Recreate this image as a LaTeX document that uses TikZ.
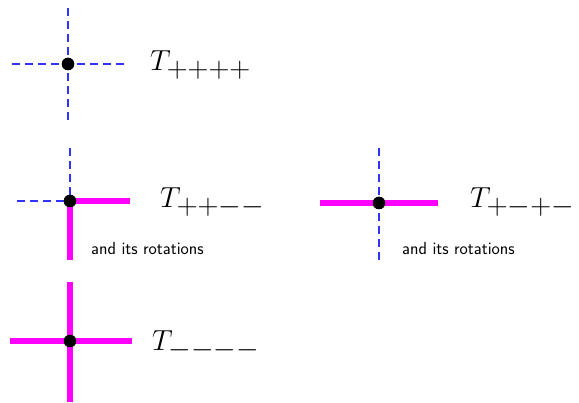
\documentclass[tikz,border=0pt]{standalone}
\usepackage{fix-cm}
\usepackage{tikz}
\usetikzlibrary{positioning}
\definecolor{linkblue}{HTML}{3333FF}
\definecolor{linkpink}{HTML}{FF00FF}

\tikzset{
    plusarm/.style={draw=linkblue, line width=2.8pt, dash pattern=on 8pt off 5pt},
    minusarm/.style={draw=linkpink, line width=5.5pt},
    vertexdot/.style={circle, fill=black, inner sep=0pt, minimum size=12.5pt},
    tlabel/.style={anchor=base west, inner sep=0pt, font=\fontsize{29}{32}\selectfont},
    rotnote/.style={anchor=base west, inner sep=0pt, font=\sffamily\fontsize{17.5}{20}\selectfont}
}

\begin{document}
\begin{tikzpicture}[x=1pt, y=-1pt]
    \useasboundingbox (0,0) rectangle (579,403);

    % all four links positive
    \node[vertexdot] (v1) at (68,64) {};
    \coordinate (v1n) at (68,8);
    \coordinate (v1s) at (68,120);
    \coordinate (v1w) at (12,64);
    \coordinate (v1e) at (124,64);
    \draw[plusarm] (v1n) -- (v1s);
    \draw[plusarm] (v1w) -- (v1e);
    \node[vertexdot] at (v1) {};
    \node[tlabel] (t1) at (150,71) {$T_{\textstyle {+}{+}{+}{+}}$};

    % two positive, two negative
    \node[vertexdot] (v2) at (70,201) {};
    \coordinate (v2n) at (70,145);
    \coordinate (v2s) at (70,260);
    \coordinate (v2w) at (14,201);
    \coordinate (v2e) at (130,201);
    \draw[plusarm] (v2) -- (v2n);
    \draw[plusarm] (v2) -- (v2w);
    \draw[minusarm] (v2) -- (v2e);
    \draw[minusarm] (v2) -- (v2s);
    \node[vertexdot] at (v2) {};
    \node[tlabel] (t2) at (160,208) {$T_{\textstyle {+}{+}{-}{-}}$};
    \node[rotnote] (r2) at (91,255) {and its rotations};

    % alternating
    \node[vertexdot] (v3) at (379,203) {};
    \coordinate (v3n) at (379,148);
    \coordinate (v3s) at (379,263);
    \coordinate (v3w) at (320,203);
    \coordinate (v3e) at (438,203);
    \draw[plusarm] (v3n) -- (v3s);
    \draw[minusarm] (v3w) -- (v3e);
    \node[vertexdot] at (v3) {};
    \node[tlabel] (t3) at (470,208) {$T_{\textstyle {+}{-}{+}{-}}$};
    \node[rotnote] (r3) at (402,255) {and its rotations};

    % all four links negative
    \node[vertexdot] (v4) at (70,341) {};
    \coordinate (v4n) at (70,282);
    \coordinate (v4s) at (70,402);
    \coordinate (v4w) at (10,341);
    \coordinate (v4e) at (132,341);
    \draw[minusarm] (v4n) -- (v4s);
    \draw[minusarm] (v4w) -- (v4e);
    \node[vertexdot] at (v4) {};
    \node[tlabel] (t4) at (152,351) {$T_{\textstyle {-}{-}{-}{-}}$};
\end{tikzpicture}
\end{document}
